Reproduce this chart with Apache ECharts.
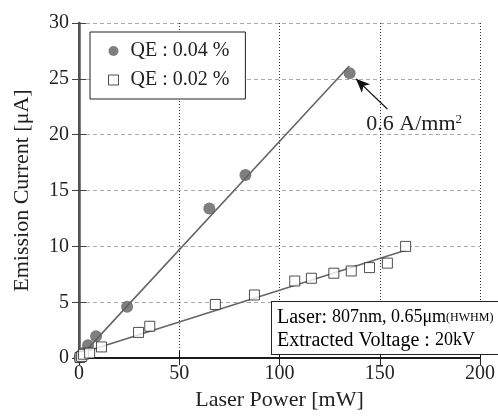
<!DOCTYPE html>
<html>
<head>
<meta charset="utf-8">
<script src="https://cdn.jsdelivr.net/npm/echarts@6/dist/echarts.min.js"></script>
<style>html,body{margin:0;padding:0;background:#fff;}#c{width:498px;height:416px;}</style>
</head>
<body>
<div id="c"></div>
<script>
// ---- data ----
const xTicks = [0, 50, 100, 150, 200];
const yTicks = [0, 5, 10, 15, 20, 25, 30];
const seriesNames = ['QE : 0.04 %', 'QE : 0.02 %'];
const qe004 = [[0.3,0.05],[1,0.2],[2,0.45],[4.5,1.15],[8.5,1.95],[24,4.6],[65,13.4],[83,16.4],[135,25.5]];
const qe002 = [[0.5,0.05],[1.3,0.15],[2.2,0.35],[5.3,0.45],[11.2,1.0],[29.7,2.3],[35.3,2.85],[68,4.8],[87.5,5.65],[107.6,6.9],[115.9,7.15],[127.1,7.6],[135.8,7.8],[144.9,8.1],[153.8,8.5],[162.9,10.0]];
const fit004 = [[0,0],[134.8,26.15]];
const fit002 = [[0,0.38],[162.9,9.65]];
const arrowFrom = [153.8, 22.3];
const arrowTo = [138.1, 25.0];
const densityLabelAt = [167.2, 20.9];

const FONT = 'Liberation Serif';
const chart = echarts.init(document.getElementById('c'), null, {renderer:'canvas'});
const baseAxis = {
  type:'value', min: xTicks[0], max: xTicks[xTicks.length-1], interval: xTicks[1]-xTicks[0]
};
chart.setOption({
  animation:false,
  backgroundColor:'#fff',
  textStyle:{fontFamily:FONT},
  grid:{left:79, right:15, top:23, bottom:56, containLabel:false},
  legend:{
    data: [
      {name:seriesNames[0], icon:'circle', itemStyle:{color:'#5f5f5f'}},
      {name:seriesNames[1], icon:'rect', itemStyle:{color:'#fff', borderColor:'#222', borderWidth:1}}
    ],
    left:90, top:32, orient:'vertical', selectedMode:false,
    backgroundColor:'#fff', borderColor:'#222', borderWidth:1, borderRadius:0,
    padding:[9,16,9,18], itemWidth:10, itemHeight:10, itemGap:9,
    textStyle:{fontFamily:FONT, fontSize:20, color:'#222', lineHeight:20, padding:[0,0,0,7]}
  },
  xAxis:[
    Object.assign({}, baseAxis, {
      position:'bottom',
      name:'Laser Power [mW]', nameLocation:'middle', nameGap:30,
      nameTextStyle:{fontFamily:FONT, fontSize:22, color:'#222'},
      axisLine:{lineStyle:{color:'#111', width:2}},
      axisTick:{inside:true, length:7, lineStyle:{color:'#111', width:1}},
      axisLabel:{fontFamily:FONT, fontSize:20, color:'#222', margin:6},
      splitLine:{show:true, lineStyle:{color:'#333', width:1, type:[1,2]}}
    }),
    Object.assign({}, baseAxis, {
      position:'top',
      axisLine:{lineStyle:{color:'#222', width:1.5}},
      axisTick:{inside:true, length:7, lineStyle:{color:'#222', width:1}},
      axisLabel:{show:false}, splitLine:{show:false}
    })
  ],
  yAxis:[
    {
      type:'value', min:yTicks[0], max:yTicks[yTicks.length-1], interval:yTicks[1]-yTicks[0], position:'left',
      name:'Emission Current [μA]', nameLocation:'middle', nameGap:46,
      nameTextStyle:{fontFamily:FONT, fontSize:22, color:'#222'},
      axisLine:{show:true, lineStyle:{color:'#444', width:2}},
      axisTick:{show:true, inside:true, length:7, lineStyle:{color:'#444', width:1}},
      axisLabel:{fontFamily:FONT, fontSize:20, color:'#222', margin:10},
      splitLine:{show:true, lineStyle:{color:'#aaa', width:1, type:[4,3]}}
    },
    {
      type:'value', min:yTicks[0], max:yTicks[yTicks.length-1], interval:yTicks[1]-yTicks[0], position:'right',
      axisLine:{show:true, lineStyle:{color:'#555', width:2.5}},
      axisTick:{show:true, inside:true, length:7, lineStyle:{color:'#444', width:1}},
      axisLabel:{show:false}, splitLine:{show:false}
    }
  ],
  series:[
    {type:'line', name:'fitA', data:fit004, showSymbol:false, symbol:'none', silent:true,
     lineStyle:{color:'#666', width:1.6}, z:2},
    {type:'line', name:'fitB', data:fit002, showSymbol:false, symbol:'none', silent:true,
     lineStyle:{color:'#666', width:1.6}, z:2,
     markLine:{
       silent:true, symbol:['none','arrow'], symbolSize:[9,14],
       lineStyle:{color:'#111', width:1.2, type:'solid'}, label:{show:false},
       data:[[{coord:arrowFrom},{coord:arrowTo}]]
     },
     markPoint:{
       silent:true, symbol:'circle', symbolSize:0,
       label:{show:true, position:'inside', formatter:'{a|0.6 A/mm}{b|2}',
         rich:{a:{fontFamily:FONT, fontSize:22, color:'#222', lineHeight:24},
               b:{fontFamily:FONT, fontSize:13, color:'#222', verticalAlign:'top', lineHeight:14}}},
       data:[{coord:densityLabelAt}]
     }},
    {type:'scatter', name:seriesNames[0], data:qe004, symbol:'circle', symbolSize:12,
     itemStyle:{color:'#5f5f5f'}, z:4},
    {type:'scatter', name:seriesNames[1], data:qe002, symbol:'rect', symbolSize:10,
     itemStyle:{color:'#fff', borderColor:'#222', borderWidth:1}, z:5}
  ],
  graphic:[
    {type:'text', left:271, top:301, z:100,
     style:{
       text:'{a|Laser: }{b|807nm, 0.65μm}{c|(HWHM)}\n{a|Extracted Voltage : }{b|20kV}',
       rich:{
         a:{fontFamily:FONT, fontSize:20, color:'#222', lineHeight:23},
         b:{fontFamily:FONT, fontSize:18, color:'#222', lineHeight:23},
         c:{fontFamily:FONT, fontSize:12, color:'#222', lineHeight:23}
       },
       backgroundColor:'#fff', borderColor:'#222', borderWidth:1, padding:[4,5,2,5]
     }}
  ]
});
</script>
</body>
</html>
